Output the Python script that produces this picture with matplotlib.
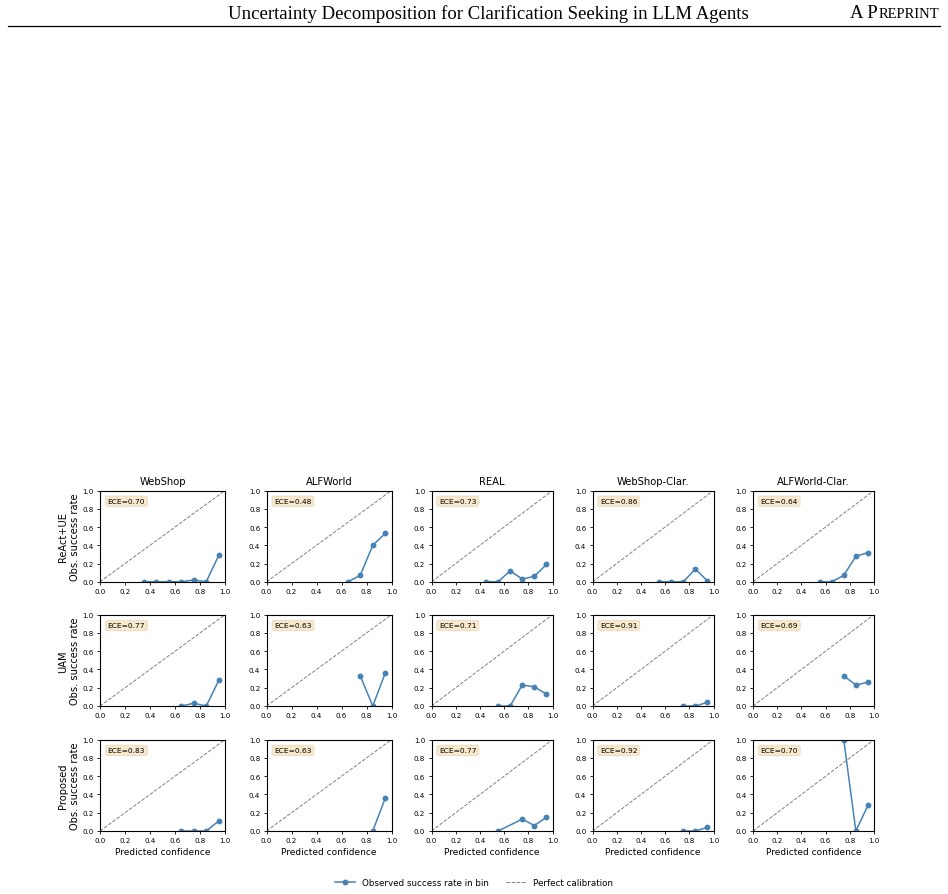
import matplotlib
matplotlib.use("Agg")
import matplotlib.pyplot as plt
from matplotlib.lines import Line2D

W, H = 948, 895
DPI = 100

datasets = ["WebShop", "ALFWorld", "REAL", "WebShop-Clar.", "ALFWorld-Clar."]
methods = ["ReAct+UE", "UAM", "Proposed"]

# bin centres and observed success rates, per method (row) and dataset (column)
conf = [
    [[0.35, 0.45, 0.55, 0.65, 0.75, 0.85, 0.95],
     [0.65, 0.75, 0.85, 0.95],
     [0.45, 0.55, 0.65, 0.75, 0.85, 0.95],
     [0.55, 0.65, 0.75, 0.85, 0.95],
     [0.55, 0.65, 0.75, 0.85, 0.95]],
    [[0.65, 0.75, 0.85, 0.95],
     [0.75, 0.85, 0.95],
     [0.55, 0.65, 0.75, 0.85, 0.95],
     [0.75, 0.85, 0.95],
     [0.75, 0.85, 0.95]],
    [[0.65, 0.75, 0.85, 0.95],
     [0.85, 0.95],
     [0.55, 0.75, 0.85, 0.95],
     [0.75, 0.85, 0.95],
     [0.75, 0.85, 0.95]],
]
success = [
    [[0.0, 0.0, 0.0, 0.0, 0.02, 0.0, 0.29],
     [0.0, 0.07, 0.40, 0.53],
     [0.0, 0.0, 0.12, 0.03, 0.06, 0.19],
     [0.0, 0.0, 0.0, 0.14, 0.01],
     [0.0, 0.0, 0.07, 0.28, 0.32]],
    [[0.0, 0.03, 0.0, 0.28],
     [0.33, 0.0, 0.36],
     [0.0, 0.0, 0.23, 0.21, 0.13],
     [0.0, 0.0, 0.04],
     [0.33, 0.23, 0.26]],
    [[0.0, 0.0, 0.0, 0.11],
     [0.0, 0.36],
     [0.0, 0.13, 0.06, 0.15],
     [0.0, 0.0, 0.04],
     [1.0, 0.0, 0.28]],
]
ece = [
    [0.70, 0.48, 0.73, 0.86, 0.64],
    [0.77, 0.63, 0.71, 0.91, 0.69],
    [0.83, 0.63, 0.77, 0.92, 0.70],
]

ticks = [0.0, 0.2, 0.4, 0.6, 0.8, 1.0]
tick_labels = ["0.0", "0.2", "0.4", "0.6", "0.8", "1.0"]

fig = plt.figure(figsize=(W / DPI, H / DPI), dpi=DPI)

# page header
fig.text(488 / W, 1 - 14 / H,
         "Uncertainty Decomposition for Clarification Seeking in LLM Agents",
         family="Liberation Serif", fontsize=13.5, ha="center", va="center")
t1 = fig.text(0, 1 - 14 / H, "A P", family="Liberation Serif",
              fontsize=13.5, ha="left", va="center")
t2 = fig.text(0, 1 - 14 / H, "REPRINT", family="Liberation Serif",
              fontsize=10.5, ha="left", va="center")
fig.canvas.draw()
w1 = t1.get_window_extent().width
w2 = t2.get_window_extent().width
x_start = 939 - (w1 + 0.5 + w2)
t1.set_x(x_start / W)
t2.set_x((x_start + w1 + 0.5) / W)
fig.add_artist(Line2D([8 / W, 940 / W], [1 - 27 / H, 1 - 27 / H],
                      color="black", lw=0.9, transform=fig.transFigure))

col_left = [100, 266.5, 431.5, 592.5, 753]
col_width = [125, 125, 121, 121, 121]
row_top = [491.5, 615.7, 740.7]
ax_h = 91.3

color = "#4682B4"
for r in range(3):
    for c in range(5):
        ax = fig.add_axes([col_left[c] / W, 1 - (row_top[r] + ax_h) / H,
                           col_width[c] / W, ax_h / H])
        ax.plot([0, 1], [0, 1], ls="--", color="gray", lw=0.7)
        ax.plot(conf[r][c], success[r][c], marker="o", ms=3.2, lw=1.1,
                color=color)
        ax.set_xlim(0, 1)
        ax.set_ylim(0, 1)
        ax.set_xticks(ticks)
        ax.set_xticklabels(tick_labels)
        ax.set_yticks(ticks)
        ax.set_yticklabels(tick_labels)
        ax.tick_params(labelsize=5.1, length=2.5, width=0.6, pad=2)
        for s in ax.spines.values():
            s.set_linewidth(0.8)
        ax.text(0.062, 0.915, f"ECE={ece[r][c]:.2f}", transform=ax.transAxes,
                fontsize=5.4, va="top", ha="left",
                bbox=dict(boxstyle="round,pad=0.3", facecolor="wheat",
                          edgecolor="#d8c8a8", alpha=0.65, lw=0.5))
        if r == 0:
            ax.set_title(datasets[c], fontsize=7.2, pad=5)
        if c == 0:
            ax.set_ylabel(f"{methods[r]}\nObs. success rate", fontsize=7.1,
                          labelpad=2)
        if r == 2:
            ax.set_xlabel("Predicted confidence", fontsize=6.5, labelpad=3)

handles = [
    Line2D([], [], color=color, marker="o", ms=3.2, lw=1.1,
           label="Observed success rate in bin"),
    Line2D([], [], color="gray", ls="--", lw=0.7, label="Perfect calibration"),
]
fig.legend(handles=handles, loc="center", ncol=2, frameon=False, fontsize=6.3,
           bbox_to_anchor=(474 / W, 1 - 884 / H), handlelength=2.3,
           columnspacing=2.0)

fig.savefig("out.png", dpi=DPI)
